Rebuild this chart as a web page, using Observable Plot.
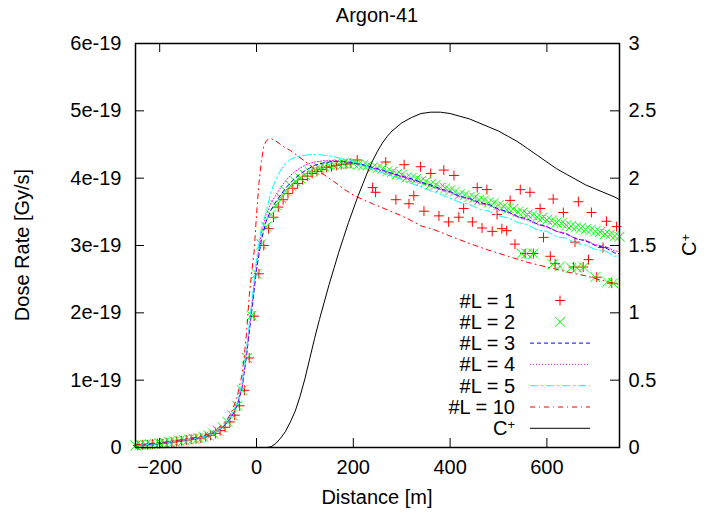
<!DOCTYPE html>
<html><head><meta charset="utf-8">
<script src="https://cdn.jsdelivr.net/npm/d3@7"></script>
<script src="https://cdn.jsdelivr.net/npm/@observablehq/plot@0.6"></script>
<style>body{margin:0;background:#fff} #chart{width:716px;height:520px}</style>
</head><body><div id="chart"></div>
<script>
// Dose rates are in units of 1e-19 Gy/s; distances in m.
const title = "Argon-41";
const xLabel = "Distance [m]";
const yLabel = "Dose Rate [Gy/s]";
const xTicks = [-200, 0, 200, 400, 600];
const yTicks = [0, 1, 2, 3, 4, 5, 6];
const y2Ticks = [0, 0.5, 1, 1.5, 2, 2.5, 3];
const seriesNames = ["#L = 1", "#L = 2", "#L = 3", "#L = 4", "#L = 5", "#L = 10", "C"];

// #L = 1 (+ markers)
const l1Dist = [-245,-235,-225,-215,-205,-195,-185,-175,-165,-155,-145,-135,-125,-115,-105,-95,-85,-75,-65,-55,-45,-35,-25,-15,-5,5,15,25,35,45,55,65,75,85,95,105,115,125,135,145,155,165,175,185,195,
  208,240,246,267,288,305,315,325,339,346,360,377,387,397,408,418,428,446,456,466,476,487,497,507,517,524,534,545,555,565,572,586,593,607,613,617,634,655,658,665,675,686,692,703,716,723,734,744];
const l1Val = [0.03,0.04,0.04,0.05,0.06,0.06,0.07,0.08,0.09,0.10,0.11,0.12,0.13,0.14,0.16,0.18,0.21,0.25,0.30,0.38,0.48,0.62,0.85,1.33,1.95,2.58,3.00,3.25,3.42,3.57,3.68,3.77,3.85,3.92,3.98,4.03,4.07,4.10,4.13,4.16,4.17,4.19,4.20,4.21,4.22,
  4.27,3.86,3.79,4.24,3.68,4.20,3.62,3.74,4.17,3.51,4.07,3.44,4.12,3.35,4.04,3.42,3.55,3.35,3.86,3.26,3.83,3.21,3.46,3.25,3.22,3.67,3.02,3.83,2.88,3.79,2.88,3.55,3.12,2.84,3.69,2.73,3.49,2.68,3.05,3.65,2.68,2.79,3.49,2.53,2.97,3.36,2.44,3.28];

// #L = 2 (x markers), main band and lower band
const l2Dist = [-250,-240,-230,-220,-210,-200,-190,-180,-170,-160,-150,-140,-130,-120,-110,-100,-90,-80,-70,-60,-50,-40,-30,-20,-10,
  0,10,20,30,40,50,60,70,80,90,100,110,120,130,140,150,160,170,180,190,200,210,220,230,240,250,260,270,280,290,300,310,320,330,340,350,360,370,380,390,400,
  410,420,430,440,450,460,470,480,490,500,510,520,530,540,550,560,570,580,590,600,610,620,630,640,650,660,670,680,690,700,710,720,730,740,750];
const l2Val = [0.03,0.04,0.04,0.05,0.05,0.06,0.07,0.08,0.09,0.10,0.11,0.12,0.13,0.14,0.16,0.18,0.21,0.25,0.30,0.38,0.48,0.62,0.85,1.33,1.96,
  2.58,3.02,3.28,3.46,3.60,3.71,3.81,3.89,3.95,4.00,4.05,4.09,4.12,4.15,4.17,4.19,4.20,4.21,4.22,4.21,4.22,4.20,4.19,4.19,4.16,4.15,4.14,4.10,4.09,4.06,4.05,4.01,4.00,3.99,3.96,3.95,3.91,3.90,3.86,3.85,3.82,
  3.80,3.76,3.75,3.72,3.71,3.68,3.67,3.64,3.63,3.60,3.58,3.55,3.54,3.50,3.49,3.46,3.45,3.42,3.41,3.38,3.37,3.34,3.33,3.30,3.29,3.27,3.26,3.24,3.23,3.21,3.20,3.17,3.16,3.14,3.13];
const l2LowDist = [548,558,572,612,627,650,662,676,700,725,737];
const l2LowVal = [2.88,2.88,2.88,2.72,2.69,2.67,2.67,2.68,2.53,2.46,2.44];

// Lines #L = 3, 4, 5 share a distance grid
const lineDist = [-250,-200,-150,-120,-100,-80,-70,-60,-50,-40,-30,-20,-10,
  0,10,20,30,40,50,60,70,80,90,100,110,120,130,140,150,160,170,180,190,200,
  220,240,260,280,300,320,340,360,380,400,420,440,460,480,500,520,540,560,580,600,620,640,660,680,700,720,740,750];
const l3Val = [0.03,0.06,0.11,0.14,0.18,0.25,0.30,0.38,0.48,0.62,0.88,1.40,2.02,
  2.64,3.08,3.36,3.53,3.65,3.75,3.85,3.93,4.00,4.06,4.11,4.15,4.19,4.21,4.23,4.24,4.25,4.25,4.25,4.24,4.23,
  4.20,4.16,4.12,4.07,4.03,3.99,3.94,3.90,3.84,3.80,3.73,3.70,3.64,3.61,3.54,3.50,3.43,3.39,3.32,3.28,3.21,3.17,3.10,3.07,3.00,2.97,2.89,2.88];
const l4Val = [0.03,0.06,0.11,0.14,0.18,0.25,0.30,0.38,0.49,0.64,0.90,1.45,2.08,
  2.72,3.18,3.46,3.63,3.75,3.86,3.96,4.04,4.10,4.15,4.19,4.22,4.24,4.25,4.26,4.26,4.26,4.25,4.24,4.23,4.22,
  4.19,4.15,4.11,4.06,4.02,3.97,3.93,3.88,3.83,3.79,3.72,3.69,3.62,3.60,3.53,3.49,3.42,3.38,3.31,3.28,3.21,3.18,3.10,3.08,3.01,2.99,2.92,2.91];
const l5Val = [0.03,0.06,0.11,0.14,0.18,0.25,0.31,0.39,0.50,0.66,0.95,1.50,2.15,
  2.80,3.25,3.50,3.80,3.98,4.12,4.22,4.28,4.31,4.33,4.34,4.35,4.35,4.35,4.34,4.33,4.32,4.30,4.29,4.27,4.25,
  4.19,4.14,4.08,4.03,3.98,3.92,3.87,3.81,3.76,3.70,3.64,3.61,3.54,3.51,3.44,3.41,3.34,3.31,3.23,3.21,3.13,3.11,3.03,3.01,2.94,2.92,2.84,2.84];

// #L = 10
const l10Dist = [-250,-200,-150,-120,-100,-80,-60,-50,-40,-30,-25,-20,-15,-10,-5,0,5,10,15,20,25,30,35,40,50,60,70,80,100,120,
  140,160,180,200,220,240,260,280,300,320,340,360,380,400,440,480,520,560,600,640,680,720,750];
const l10Val = [0.04,0.07,0.12,0.16,0.20,0.28,0.42,0.55,0.75,1.08,1.38,1.75,2.25,2.60,2.90,3.45,3.92,4.25,4.47,4.55,4.58,4.59,4.57,4.55,4.50,4.45,4.41,4.36,4.25,4.14,
  4.05,3.95,3.84,3.75,3.68,3.62,3.56,3.50,3.44,3.37,3.29,3.25,3.20,3.14,3.03,2.93,2.84,2.75,2.68,2.61,2.55,2.47,2.42];

// C+ (right axis, 0..3)
const cDist = [20,30,40,50,60,70,80,90,100,110,120,130,140,150,160,170,180,190,200,210,220,230,240,250,260,270,280,
  300,320,340,360,380,400,420,440,460,480,500,520,540,560,580,600,620,640,660,680,700,720,740,750];
const cVal = [0,0.005,0.03,0.07,0.12,0.19,0.27,0.38,0.51,0.66,0.81,0.95,1.08,1.21,1.33,1.45,1.56,1.67,1.77,1.87,1.96,2.05,2.13,2.20,2.26,2.31,2.35,
  2.41,2.45,2.48,2.49,2.49,2.48,2.46,2.44,2.41,2.38,2.35,2.31,2.27,2.22,2.17,2.12,2.07,2.03,1.99,1.95,1.92,1.89,1.86,1.84];

const W = 716, H = 520, ML = 135, MR = 97, MT = 43, MB = 73;
const FW = W - ML - MR, FH = H - MT - MB, TICK = 9;
const FONT = "'Liberation Sans', Arial, Helvetica, sans-serif";
const rows = (xs, ys) => xs.map((d, i) => ({d, v: ys[i]}));
const Y2 = 2; // right axis 0..3 maps onto left 0..6

const styles = {
  l1: {stroke: "#ff0000", symbol: "plus", r: 3.3},
  l2: {stroke: "#00ff00", symbol: "times", r: 4.6},
  l3: {stroke: "#0000ff", dash: "4,3"},
  l4: {stroke: "#ff00ff", dash: "1,2"},
  l5: {stroke: "#00ffff", dash: "8,3,2,3"},
  l10: {stroke: "#ff0000", dash: "5,4,1,4"},
  c: {stroke: "#000000", dash: null}
};

const plot = Plot.plot({
  width: W, height: H,
  marginLeft: ML, marginRight: MR, marginTop: MT, marginBottom: MB,
  style: {fontFamily: FONT, fontSize: "20px", background: "#fff", color: "#000", overflow: "visible"},
  x: {domain: [-250, 750]},
  y: {domain: [0, 6]},
  marks: [
    Plot.dot(rows(l1Dist, l1Val), {x: "d", y: "v", symbol: styles.l1.symbol, r: styles.l1.r, stroke: styles.l1.stroke, strokeWidth: 1}),
    Plot.dot(rows(l2Dist, l2Val), {x: "d", y: "v", symbol: styles.l2.symbol, r: styles.l2.r, stroke: styles.l2.stroke, strokeWidth: 1}),
    Plot.dot(rows(l2LowDist, l2LowVal), {x: "d", y: "v", symbol: styles.l2.symbol, r: styles.l2.r, stroke: styles.l2.stroke, strokeWidth: 1}),
    Plot.line(rows(lineDist, l3Val), {x: "d", y: "v", stroke: styles.l3.stroke, strokeWidth: 1, strokeDasharray: styles.l3.dash}),
    Plot.line(rows(lineDist, l4Val), {x: "d", y: "v", stroke: styles.l4.stroke, strokeWidth: 1, strokeDasharray: styles.l4.dash}),
    Plot.line(rows(lineDist, l5Val), {x: "d", y: "v", stroke: styles.l5.stroke, strokeWidth: 1, strokeDasharray: styles.l5.dash}),
    Plot.line(rows(l10Dist, l10Val), {x: "d", y: "v", stroke: styles.l10.stroke, strokeWidth: 1, strokeDasharray: styles.l10.dash}),
    Plot.line(rows(cDist, cVal), {x: "d", y: r => r.v * Y2, stroke: styles.c.stroke, strokeWidth: 1}),
    // inward ticks (gnuplot style)
    Plot.tickY(yTicks, {y: d => d, insetRight: FW - TICK, stroke: "#000"}),
    Plot.tickY(yTicks, {y: d => d, insetLeft: FW - TICK, stroke: "#000"}),
    Plot.tickX(xTicks, {x: d => d, insetTop: FH - TICK, stroke: "#000"}),
    Plot.tickX(xTicks, {x: d => d, insetBottom: FH - TICK, stroke: "#000"}),
    Plot.axisX({ticks: xTicks, tickSize: 0, tickPadding: 12, label: null, fontSize: 20}),
    Plot.axisY({ticks: yTicks, tickSize: 0, tickPadding: 14, label: null, fontSize: 20,
      tickFormat: d => d === 0 ? "0" : `${d}e-19`}),
    Plot.axisY({anchor: "right", ticks: yTicks, tickSize: 0, tickPadding: 9, label: null, fontSize: 20,
      tickFormat: (d, i) => String(y2Ticks[i])}),
    Plot.frame({stroke: "#000", strokeWidth: 1.5})
  ]
});
document.getElementById("chart").appendChild(plot);

// Titles and legend overlay
const svg = d3.select(plot);
const g = svg.append("g").attr("font-family", FONT).attr("font-size", 20).attr("fill", "#000");
g.append("text").attr("x", ML + FW / 2).attr("y", 15).attr("dy", "0.35em").attr("text-anchor", "middle").text(title);
g.append("text").attr("x", ML + FW / 2).attr("y", 497).attr("dy", "0.35em").attr("text-anchor", "middle").text(xLabel);
g.append("text").attr("transform", `translate(22,${MT + FH / 2}) rotate(-90)`).attr("dy", "0.35em").attr("text-anchor", "middle").text(yLabel);
const c2 = g.append("text").attr("transform", `translate(689,${MT + FH / 2}) rotate(-90)`).attr("dy", "0.35em").attr("text-anchor", "middle");
c2.append("tspan").text("C");
c2.append("tspan").attr("font-size", 13).attr("dy", "-0.5em").text("+");

const legKeys = ["l1", "l2", "l3", "l4", "l5", "l10", "c"];
const legY0 = 300.5, legDY = 21.3, legTextX = 515, legX1 = 530, legX2 = 590;
legKeys.forEach((k, i) => {
  const y = legY0 + i * legDY, s = styles[k];
  const t = g.append("text").attr("x", legTextX).attr("y", y).attr("dy", "0.35em").attr("text-anchor", "end");
  t.append("tspan").text(seriesNames[i]);
  if (k === "c") t.append("tspan").attr("font-size", 13).attr("dy", "-0.5em").text("+");
  if (s.symbol) {
    const sym = s.symbol === "plus" ? d3.symbolPlus : d3.symbolTimes;
    g.append("path").attr("transform", `translate(${(legX1 + legX2) / 2},${y})`)
      .attr("d", d3.symbol(sym, Math.PI * s.r * s.r)()).attr("fill", "none").attr("stroke", s.stroke).attr("stroke-width", 1);
  } else {
    g.append("line").attr("x1", legX1).attr("x2", legX2).attr("y1", y).attr("y2", y)
      .attr("stroke", s.stroke).attr("stroke-width", 1).attr("stroke-dasharray", s.dash);
  }
});
</script>
</body></html>
